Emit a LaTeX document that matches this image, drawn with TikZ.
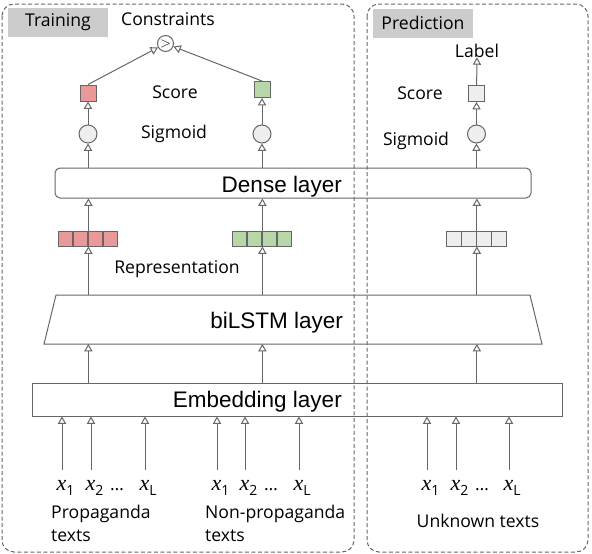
\documentclass[tikz,border=0pt]{standalone}
\usepackage{fontspec}
\setmainfont{Open Sans}
\newfontfamily\layerfont{Liberation Sans}
\newfontfamily\tokfont{Liberation Serif}
\usetikzlibrary{arrows}
\definecolor{linegray}{HTML}{666666}
\definecolor{scorered}{HTML}{EA9999}
\definecolor{scoregreen}{HTML}{B6D7A8}
\definecolor{cellgray}{HTML}{EEEEEE}
\definecolor{taggray}{HTML}{CCCCCC}
\newcommand{\tok}[1]{{\tokfont\itshape\fontsize{22}{22}\selectfont x}\raisebox{-5pt}{\fontsize{14}{14}\selectfont #1}}

\begin{document}
\begin{tikzpicture}[x=1pt, y=-1pt, >=open triangle 60,
  every node/.style={font=\fontsize{17.6}{22.5}\selectfont, inner sep=0pt},
  line/.style={draw=linegray, line width=1pt},
  frame/.style={draw=linegray, line width=1pt, dash pattern=on 4pt off 2.5pt, rounded corners=12pt},
  tag/.style={fill=taggray, minimum width=100pt, minimum height=29pt},
  layer/.style={line},
  layertxt/.style={anchor=base east, font=\layerfont\fontsize{22.5}{22.5}\selectfont},
  cell/.style={line, minimum width=14.75pt, minimum height=15pt},
  unit/.style={line, circle, fill=cellgray, minimum size=18pt},
  score/.style={line, minimum size=16pt},
  arr/.style={line, ->}]
\useasboundingbox (0,0) rectangle (592,554);

% panels
\draw[frame] (2,4) rectangle (354,552);
\draw[frame] (367,4) rectangle (588,552);
\node[tag] (train) at (58,22.5) {Training};
\node[tag] (pred) at (423,23) {Prediction};

% layers
\node[layer, minimum width=530pt, minimum height=33pt] (emb) at (297,399.5) {};
\node[layertxt] (embtxt) at (342,407) {Embedding layer};
\draw[layer] (56,295) coordinate (lstmtop) -- (530,295) -- (542,344) -- (44,344) coordinate (lstmbot) -- cycle;
\node[layertxt] (lstmtxt) at (343,328) {biLSTM layer};
\node[layer, rounded corners=5pt, minimum width=476pt, minimum height=30pt] (dense) at (293,183) {};
\node[layertxt] (densetxt) at (342,192) {Dense layer};

% inputs
\foreach \x/\nm/\s in {62/pa/1, 91/pb/2, 145/pc/L, 217/na/1, 245/nb/2, 299/nc/L, 427/ua/1, 456/ub/2, 509/uc/L}
  {
  \coordinate (\nm) at (\x,470);
  \node[anchor=base west] (\nm x) at (\x-5.5,490) {\tok{\s}};
  \draw[arr] (\nm) -- (\nm |- emb.south);
  }
\foreach \x/\nm in {117/pd, 271/nd, 482/ud}
  \node[anchor=base] (\nm) at (\x,490) {\dots};
\node[anchor=base west, align=left] (ptxt) at (51,541) {Propaganda\\texts};
\node[anchor=base west, align=left] (ntxt) at (205,541) {Non-propaganda\\texts};
\node[anchor=base] (utxt) at (478,527) {Unknown texts};

% representations, sigmoid units and scores
\foreach \c/\n/\col/\sy in {88/R/scorered/93, 262/G/scoregreen/89.5, 476.5/U/cellgray/93.5}
  {
  \foreach \i in {1,...,4}
    \node[cell, fill=\col] (\n\i) at (\c-37.5+15*\i,238.5) {};
  \node[unit] (s\n) at (\c,134) {};
  \node[score, fill=\col] (q\n) at (\c,\sy) {};
  \draw[arr] (\n2.south east |- lstmtop) -- (\n2.south east);
  \draw[arr] (\n2.north east |- emb.north) -- (\n2.north east |- lstmbot);
  \draw[arr] (\n2.north east) -- (\n2.north east |- dense.south);
  \draw[arr] (s\n |- dense.north) -- (s\n);
  \draw[arr] (s\n) -- (q\n);
  }

% constraints
\node[line, circle, fill=white, minimum size=16pt, font=\fontsize{14}{14}\selectfont] (cons) at (165.5,43.5) {$>$};
\draw[arr] (qR.north) -- (cons);
\draw[arr] (qG.north) -- (cons);
\node[anchor=base] (constxt) at (168,25) {Constraints};
\node[anchor=base] (label) at (477,57) {Label};
\draw[arr] (qU) -- (label.south);

% captions
\node[anchor=base] (scoretxt) at (175,98) {Score};
\node[anchor=base] (sigtxt) at (174,138) {Sigmoid};
\node[anchor=base] (reptxt) at (177,273) {Representation};
\node[anchor=base] (uscore) at (420,99) {Score};
\node[anchor=base] (usig) at (416,145) {Sigmoid};
\end{tikzpicture}
\end{document}
